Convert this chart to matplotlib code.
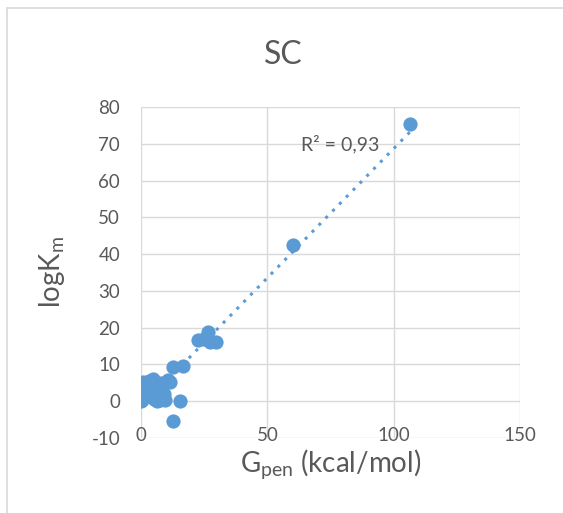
import matplotlib.pyplot as plt
from matplotlib.patches import Rectangle
import numpy as np

# Penetration energy vs. log stability constant
g_pen = [0.0, 0.4, 0.5, 0.8, 2.0, 2.4, 3.0, 4.0, 4.7, 5.0, 5.5, 6.0, 6.3, 7.0, 7.5, 8.0,
         9.0, 9.5, 10.5, 11.4, 12.6, 16.6, 15.4, 12.6, 22.5, 25.0, 26.5, 27.5, 29.5,
         60.0, 106.5]
log_k = [0.0, 0.3, 4.3, 5.2, 3.0, 1.4, 5.5, 2.0, 6.0, 0.5, 4.8, 1.5, 0.0, 3.5, 0.2, 5.0,
         2.0, 0.3, 5.8, 5.2, 9.3, 9.5, 0.0, -5.4, 16.7, 17.0, 18.8, 16.2, 16.0,
         42.5, 75.5]
x_ticks = [0, 50, 100, 150]
y_ticks = [-10, 0, 10, 20, 30, 40, 50, 60, 70, 80]

blue = '#5B9BD5'
grey_text = '#595959'
plt.rcParams['font.family'] = ['Lato', 'DejaVu Sans']
plt.rcParams['axes.unicode_minus'] = False

fig = plt.figure(figsize=(5.63, 5.13), dpi=100)
fig.patches.append(Rectangle((7/563, -0.1), 1.2, 1 - 8/513 + 0.1, transform=fig.transFigure,
                             fill=False, edgecolor='#D9D9D9', linewidth=1.2))
ax = fig.add_axes([141/563, 1 - 438/513, 379/563, 331/513])

x = np.array(g_pen); y = np.array(log_k)
slope, icpt = np.polyfit(x, y, 1)
xs = np.array([x.min(), x.max()])
ax.plot(xs, slope*xs + icpt, linestyle=(0, (1, 2.2)), color=blue, linewidth=2.2, zorder=2)
ax.scatter(x, y, s=105, color=blue, zorder=3, linewidths=0)

ax.set_xlim(0, 150); ax.set_ylim(-10, 80)
ax.set_xticks(x_ticks); ax.set_yticks(y_ticks)
ax.grid(True, color='#D9D9D9', linewidth=1.0)
ax.set_axisbelow(True)
for s in ax.spines.values():
    s.set_visible(False)
ax.tick_params(length=0, labelsize=13.5, labelcolor=grey_text)
ax.tick_params(axis='x', pad=-8)
ax.tick_params(axis='y', pad=15)

ax.text(63.5, 70, 'R² = 0,93', fontsize=14, color=grey_text, va='center', ha='left')
fig.text(283/563, 1 - 55/513, 'SC', fontsize=23, color=grey_text, ha='center', va='center')
fig.text(331/563, 1 - 465/513, r'G$_{\mathregular{pen}}$ (kcal/mol)', fontsize=20,
         color=grey_text, ha='center', va='center')
fig.text(52/563, 1 - 272/513, r'logK$_{\mathregular{m}}$', fontsize=20, color=grey_text,
         ha='center', va='center', rotation=90)

fig.savefig('out.png', dpi=100)
